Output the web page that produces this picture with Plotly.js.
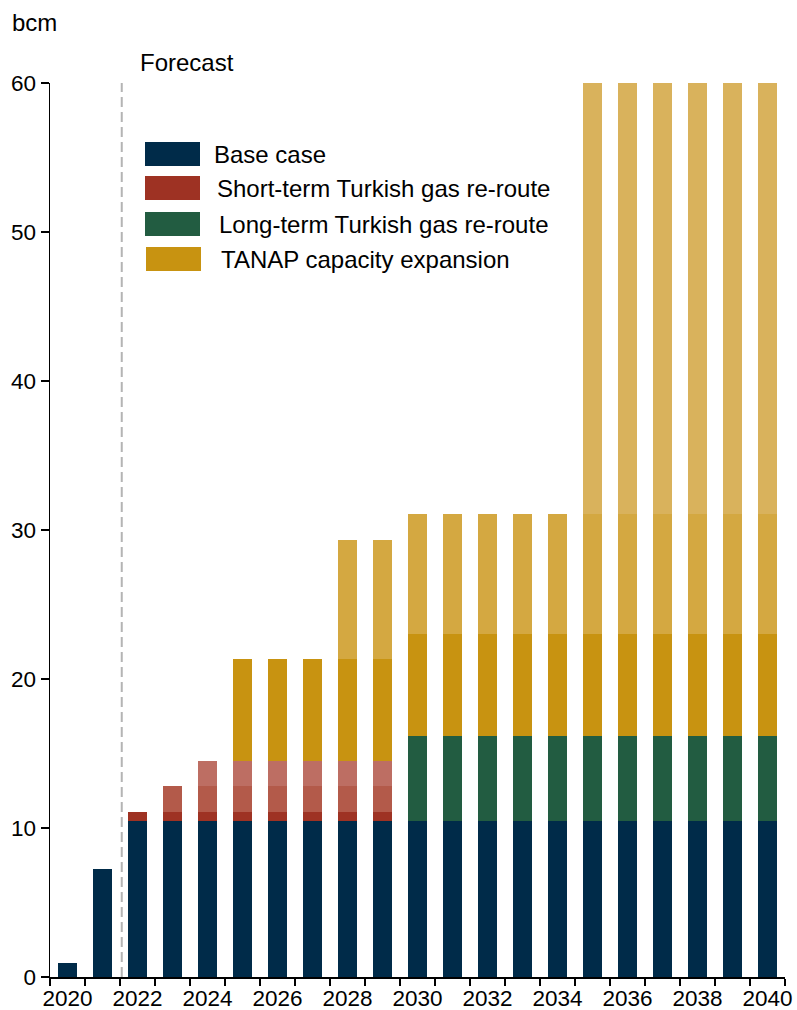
<!DOCTYPE html>
<html>
<head>
<meta charset="utf-8">
<script src="https://cdn.plot.ly/plotly-3.0.1.min.js"></script>
<style>html,body{margin:0;padding:0;background:#fff;}#chart{width:797px;height:1010px;}</style>
</head>
<body>
<div id="chart"></div>
<script>
// ---- data (bcm) ----
var years = [2020,2021,2022,2023,2024,2025,2026,2027,2028,2029,2030,2031,2032,2033,2034,2035,2036,2037,2038,2039,2040];
var baseCase =            [0.95,7.25,10.5,10.5,10.5,10.5,10.5,10.5,10.5,10.5,10.5,10.5,10.5,10.5,10.5,10.5,10.5,10.5,10.5,10.5,10.5];
var shortTermStage1 =     [null,null,0.6,0.6,0.6,0.6,0.6,0.6,0.6,0.6,null,null,null,null,null,null,null,null,null,null,null];
var shortTermStage2 =     [null,null,null,1.7,1.7,1.7,1.7,1.7,1.7,1.7,null,null,null,null,null,null,null,null,null,null,null];
var shortTermStage3 =     [null,null,null,null,1.7,1.7,1.7,1.7,1.7,1.7,null,null,null,null,null,null,null,null,null,null,null];
var longTermReroute =     [null,null,null,null,null,null,null,null,null,null,5.65,5.65,5.65,5.65,5.65,5.65,5.65,5.65,5.65,5.65,5.65];
var tanapStage1 =         [null,null,null,null,null,6.85,6.85,6.85,6.85,6.85,6.9,6.9,6.9,6.9,6.9,6.9,6.9,6.9,6.9,6.9,6.9];
var tanapStage2 =         [null,null,null,null,null,null,null,null,8.0,8.0,8.0,8.0,8.0,8.0,8.0,8.0,8.0,8.0,8.0,8.0,8.0];
var tanapStage3 =         [null,null,null,null,null,null,null,null,null,null,null,null,null,null,null,28.95,28.95,28.95,28.95,28.95,28.95];
var legendLabels = ["Base case","Short-term Turkish gas re-route","Long-term Turkish gas re-route","TANAP capacity expansion"];
var xTickYears = [2020,2022,2024,2026,2028,2030,2032,2034,2036,2038,2040];
var yTicks = [0,10,20,30,40,50,60];
var forecastStart = 2021.55;

// ---- styling ----
var C = {
  base:'#002B49', red1:'#9E3223', red2:'#B35A4A', red3:'#BD6E63',
  green:'#225C41', gold1:'#C89311', gold2:'#D4A841', gold3:'#D9B25C'
};
var FONT = 'Liberation Sans, Arial, sans-serif';
var BW = 0.57;

function bar(y, color, name){
  return {type:'bar', x:years, y:y, name:name, width:BW, showlegend:false,
          marker:{color:color, line:{width:0}}, hoverinfo:'x+y+name'};
}
var data = [
  bar(baseCase, C.base, legendLabels[0]),
  bar(shortTermStage1, C.red1, legendLabels[1]),
  bar(shortTermStage2, C.red2, legendLabels[1]),
  bar(shortTermStage3, C.red3, legendLabels[1]),
  bar(longTermReroute, C.green, legendLabels[2]),
  bar(tanapStage1, C.gold1, legendLabels[3]),
  bar(tanapStage2, C.gold2, legendLabels[3]),
  bar(tanapStage3, C.gold3, legendLabels[3])
];

// custom legend (paper coords)
var L = 50, R = 785, T = 83, B = 977;
function px(x){ return (x - L) / (R - L); }
function py(y){ return (B - y) / (B - T); }
var legendColors = [C.base, C.red1, C.green, C.gold1];
var legendRows = [[145,142,166,212],[145,176,200,215],[145,212,236,217],[146,247,271,219]];
var shapes = [{
  type:'line', xref:'x', yref:'paper', x0:forecastStart, x1:forecastStart, y0:0, y1:1,
  line:{color:'#B4B4B4', width:2, dash:'10px,5px'}
}];
var annotations = [
  {xref:'paper', yref:'paper', x:px(10), y:py(22), xanchor:'left', yanchor:'middle', text:'bcm',
   showarrow:false, font:{family:FONT, size:24, color:'#000'}},
  {xref:'paper', yref:'paper', x:px(138), y:py(62), xanchor:'left', yanchor:'middle', text:'Forecast',
   showarrow:false, font:{family:FONT, size:24, color:'#000'}}
];
legendRows.forEach(function(r, i){
  shapes.push({type:'rect', xref:'paper', yref:'paper', x0:px(r[0]), x1:px(r[0]+55), y0:py(r[2]), y1:py(r[1]),
               fillcolor:legendColors[i], line:{width:0}});
  annotations.push({xref:'paper', yref:'paper', x:px(r[3]), y:py((r[1]+r[2])/2), xanchor:'left', yanchor:'middle',
                    text:legendLabels[i], showarrow:false, font:{family:FONT, size:24, color:'#000'}});
});

var layout = {
  width:797, height:1010,
  margin:{l:L, r:797-R, t:T, b:1010-B, pad:0},
  paper_bgcolor:'#fff', plot_bgcolor:'#fff',
  barmode:'stack', bargap:0.43,
  showlegend:false,
  font:{family:FONT, size:22.5, color:'#000'},
  xaxis:{
    type:'linear', range:[2019.5, 2040.5], fixedrange:true,
    tickmode:'array', tickvals:xTickYears, ticktext:xTickYears.map(String),
    ticks:'', showgrid:false, zeroline:false,
    showline:true, linecolor:'#000', linewidth:1.5,
    minor:{tick0:2019.5, dtick:1, ticks:'outside', ticklen:7, tickwidth:1.5, tickcolor:'#000', showgrid:false},
    tickfont:{family:FONT, size:22.5, color:'#000'}
  },
  yaxis:{
    range:[0,60], fixedrange:true,
    tickmode:'array', tickvals:yTicks, ticktext:yTicks.map(String),
    ticks:'outside', ticklen:8, tickwidth:1.5, tickcolor:'#000',
    showgrid:false, zeroline:false,
    showline:true, linecolor:'#000', linewidth:1.5,
    tickfont:{family:FONT, size:22.5, color:'#000'}
  },
  shapes:shapes,
  annotations:annotations
};

Plotly.newPlot('chart', data, layout, {displayModeBar:false, staticPlot:true});
</script>
</body>
</html>
